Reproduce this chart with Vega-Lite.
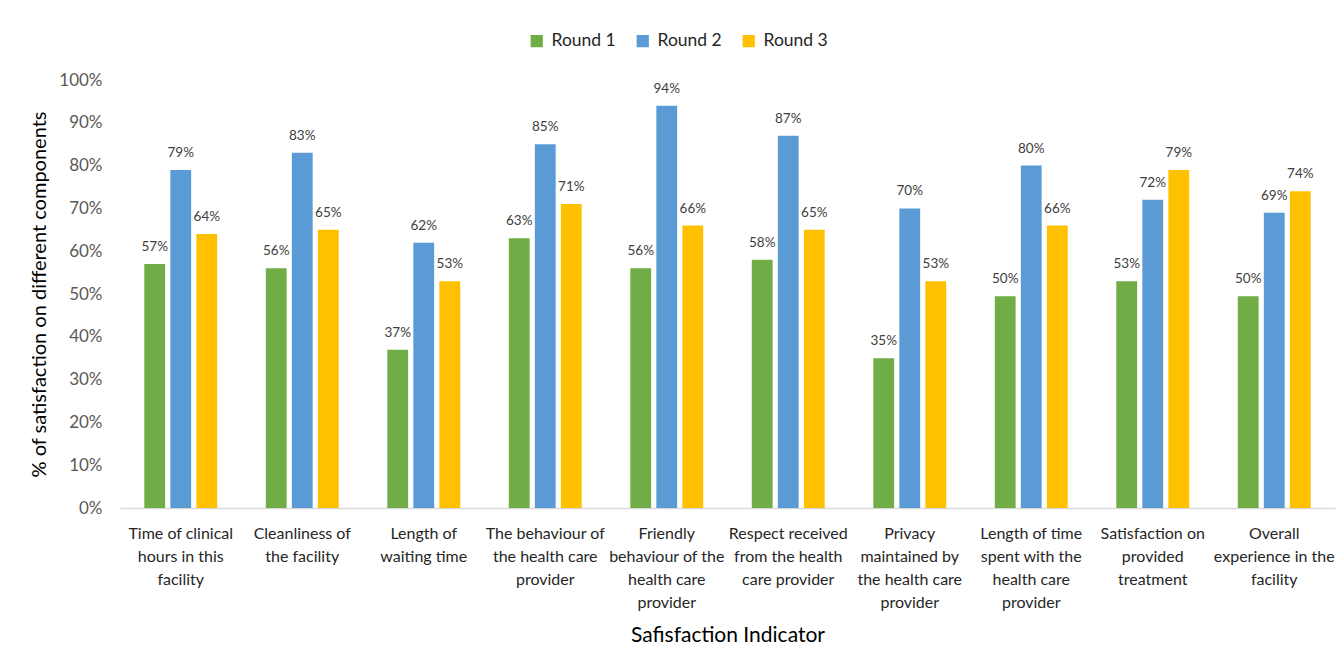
{
  "$schema": "https://vega.github.io/schema/vega-lite/v6.json",
  "width": 1215,
  "height": 428,
  "autosize": {"type": "none"},
  "padding": {"left": 120, "top": 80, "right": 9, "bottom": 157},
  "background": "white",
  "config": {
    "font": "Lato",
    "view": {"stroke": null}
  },
  "data": {
    "values": [
      {"indicator": "Time of clinical|hours in this|facility", "round": "Round 1", "value": 0.57},
      {"indicator": "Time of clinical|hours in this|facility", "round": "Round 2", "value": 0.79},
      {"indicator": "Time of clinical|hours in this|facility", "round": "Round 3", "value": 0.64},
      {"indicator": "Cleanliness of|the facility", "round": "Round 1", "value": 0.56},
      {"indicator": "Cleanliness of|the facility", "round": "Round 2", "value": 0.83},
      {"indicator": "Cleanliness of|the facility", "round": "Round 3", "value": 0.65},
      {"indicator": "Length of|waiting time", "round": "Round 1", "value": 0.37},
      {"indicator": "Length of|waiting time", "round": "Round 2", "value": 0.62},
      {"indicator": "Length of|waiting time", "round": "Round 3", "value": 0.53},
      {"indicator": "The behaviour of|the health care|provider", "round": "Round 1", "value": 0.63},
      {"indicator": "The behaviour of|the health care|provider", "round": "Round 2", "value": 0.85},
      {"indicator": "The behaviour of|the health care|provider", "round": "Round 3", "value": 0.71},
      {"indicator": "Friendly|behaviour of the|health care|provider", "round": "Round 1", "value": 0.56},
      {"indicator": "Friendly|behaviour of the|health care|provider", "round": "Round 2", "value": 0.94},
      {"indicator": "Friendly|behaviour of the|health care|provider", "round": "Round 3", "value": 0.66},
      {"indicator": "Respect received|from the health|care provider", "round": "Round 1", "value": 0.58},
      {"indicator": "Respect received|from the health|care provider", "round": "Round 2", "value": 0.87},
      {"indicator": "Respect received|from the health|care provider", "round": "Round 3", "value": 0.65},
      {"indicator": "Privacy|maintained by|the health care|provider", "round": "Round 1", "value": 0.35},
      {"indicator": "Privacy|maintained by|the health care|provider", "round": "Round 2", "value": 0.70},
      {"indicator": "Privacy|maintained by|the health care|provider", "round": "Round 3", "value": 0.53},
      {"indicator": "Length of time|spent with the|health care|provider", "round": "Round 1", "value": 0.495},
      {"indicator": "Length of time|spent with the|health care|provider", "round": "Round 2", "value": 0.80},
      {"indicator": "Length of time|spent with the|health care|provider", "round": "Round 3", "value": 0.66},
      {"indicator": "Satisfaction on|provided|treatment", "round": "Round 1", "value": 0.53},
      {"indicator": "Satisfaction on|provided|treatment", "round": "Round 2", "value": 0.72},
      {"indicator": "Satisfaction on|provided|treatment", "round": "Round 3", "value": 0.79},
      {"indicator": "Overall|experience in the|facility", "round": "Round 1", "value": 0.495},
      {"indicator": "Overall|experience in the|facility", "round": "Round 2", "value": 0.69},
      {"indicator": "Overall|experience in the|facility", "round": "Round 3", "value": 0.74}
    ]
  },
  "encoding": {
    "x": {
      "field": "indicator",
      "type": "nominal",
      "sort": null,
      "scale": {"paddingInner": 0.4, "paddingOuter": 0.2},
      "axis": {
        "title": "Safisfaction Indicator",
        "titleFontSize": 21,
        "titleFontWeight": "normal",
        "titleColor": "#000000",
        "titlePadding": 14,
        "labelExpr": "split(datum.label, '|')",
        "labelAngle": 0,
        "labelFontSize": 16,
        "labelColor": "#262626",
        "labelLineHeight": 23,
        "labelPadding": 17,
        "labelLimit": 200,
        "labelOverlap": false,
        "ticks": false,
        "domainColor": "#D9D9D9",
        "domainWidth": 1.5
      }
    },
    "xOffset": {
      "field": "round",
      "type": "nominal",
      "scale": {"paddingInner": 0.2, "paddingOuter": 0}
    },
    "y": {
      "field": "value",
      "type": "quantitative",
      "scale": {"domain": [0, 1], "nice": false},
      "axis": {
        "title": "% of satisfaction on different components",
        "titleFontSize": 20,
        "titleFontWeight": "normal",
        "titleColor": "#000000",
        "titlePadding": 9,
        "format": ".0%",
        "values": [0, 0.1, 0.2, 0.3, 0.4, 0.5, 0.6, 0.7, 0.8, 0.9, 1],
        "labelOverlap": false,
        "labelFontSize": 17,
        "labelColor": "#595959",
        "labelPadding": 18,
        "ticks": false,
        "domain": false,
        "grid": false
      }
    }
  },
  "layer": [
    {
      "mark": {"type": "bar"},
      "encoding": {
        "color": {
          "field": "round",
          "type": "nominal",
          "scale": {"domain": ["Round 1", "Round 2", "Round 3"], "range": ["#70AD47", "#5B9BD5", "#FFC000"]},
          "legend": {
            "title": null,
            "orient": "none",
            "direction": "horizontal",
            "legendX": 408,
            "legendY": -48,
            "symbolType": "square",
            "symbolSize": 150,
            "symbolStrokeWidth": 0,
            "labelFontSize": 17.5,
            "labelColor": "#262626",
            "columnPadding": 18,
            "labelOffset": 6
          }
        }
      }
    },
    {
      "mark": {"type": "text", "dy": -17, "fontSize": 13.5, "color": "#404040"},
      "encoding": {
        "text": {"field": "value", "type": "quantitative", "format": ".0%"}
      }
    }
  ]
}
